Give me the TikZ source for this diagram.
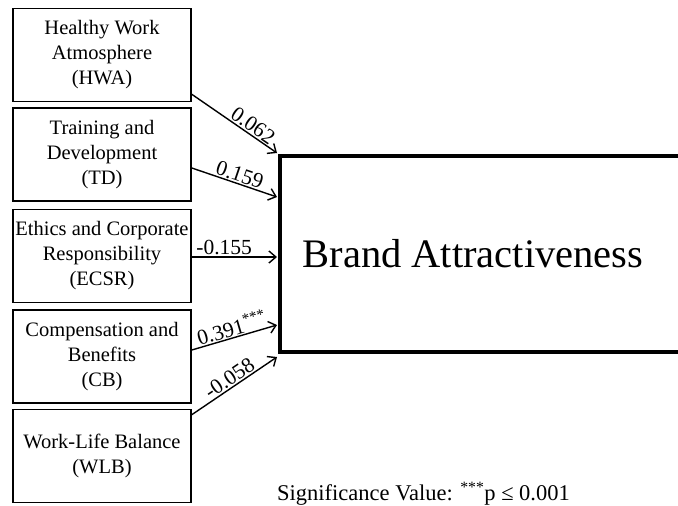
\documentclass[tikz,border=0pt]{standalone}
\usepackage{fontspec}
\setmainfont{Liberation Serif}
\usetikzlibrary{arrows.meta}
\begin{document}
\begin{tikzpicture}[x=1pt,y=-1pt,
  factor/.style={draw, line width=1.6pt, minimum width=178pt, minimum height=93pt, align=center, font=\fontsize{20.5}{25}\selectfont, inner sep=0pt},
  arr/.style={line width=1.4pt, -{Straight Barb[length=7pt,width=12pt]}},
  coef/.style={font=\fontsize{21.5}{24}\selectfont, inner sep=1pt}]
\path[clip,use as bounding box] (0,0) rectangle (678,506);
\fill[white] (0,0) rectangle (678,506);
\node[factor] (hwa) at (102,55) {Healthy Work\\Atmosphere\\(HWA)};
\node[factor] (td) at (102,154.5) {Training and\\Development\\(TD)};
\node[factor] (ecsr) at (102,256) {Ethics and Corporate\\Responsibility\\(ECSR)};
\node[factor] (cb) at (102,356.5) {Compensation and\\Benefits\\(CB)};
\node[factor] (wlb) at (102,456) {Work-Life Balance\\(WLB)};
\node[draw, line width=4pt, minimum width=410pt, minimum height=196pt, inner sep=0pt, font=\fontsize{40.5}{46}\selectfont] (big) at (485,253.5) {\hspace*{-12pt}Brand Attractiveness\hspace*{12pt}};
\coordinate (t1) at (277,153);
\coordinate (t2) at (277,197);
\coordinate (t3) at (277,257);
\coordinate (t4) at (277,325);
\coordinate (t5) at (277,357);
\draw[arr] ([yshift=8pt]hwa.south east) -- node[coef, sloped, above, pos=0.66] {0.062} (t1);
\draw[arr] ([yshift=-13.5pt]td.east) -- node[coef, sloped, above, pos=0.53] {0.159} (t2);
\draw[arr] ([yshift=-1pt]ecsr.east) -- node[coef, above, pos=0.38] {-0.155} (t3);
\draw[arr] ([yshift=6.5pt]cb.east) -- node[coef, sloped, above, pos=0.5] {0.391\textsuperscript{***}} (t4);
\draw[arr] ([yshift=-6pt]wlb.north east) -- node[coef, sloped, above, pos=0.5] {-0.058} (t5);
\node[anchor=base west, inner sep=0pt, font=\fontsize{22.5}{26}\selectfont] (sig) at (277,500) {Significance Value: \textsuperscript{***}p ≤ 0.001};
\end{tikzpicture}
\end{document}
